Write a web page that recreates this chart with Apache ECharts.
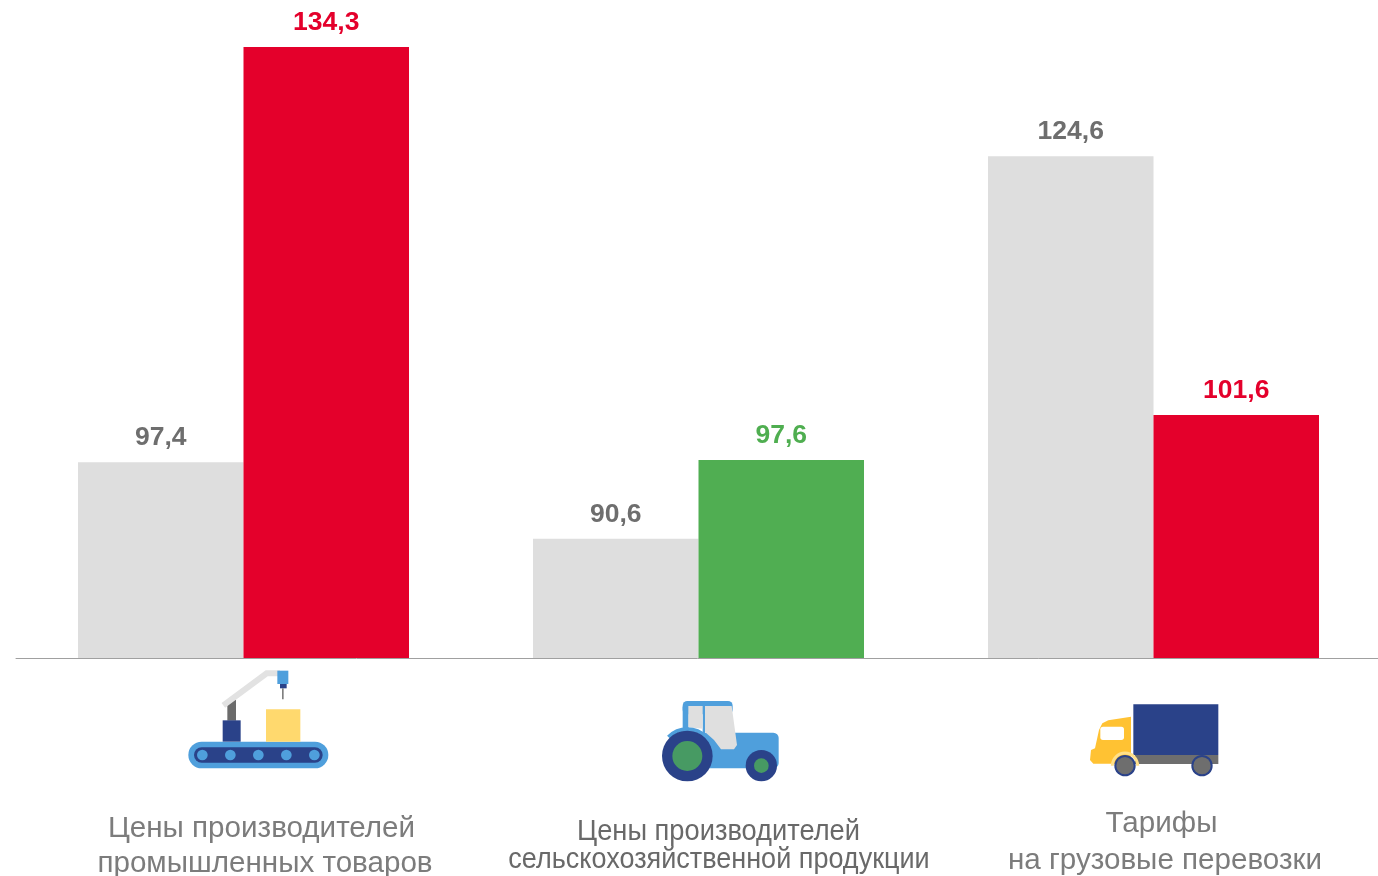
<!DOCTYPE html>
<html><head><meta charset="utf-8">
<style>html,body{margin:0;padding:0;background:#fff;overflow:hidden}#c{width:1378px;height:876px}</style>
<script src="https://cdn.jsdelivr.net/npm/echarts@6/dist/echarts.min.js"></script>
</head><body><div id="c"></div>
<script>
const categories = ['Промышленность', 'Сельское хозяйство', 'Грузоперевозки'];
const previousValues = [97.4, 90.6, 124.6];
const currentValues = [134.3, 97.6, 101.6];
const currentColors = ['#e4002b', '#50ae52', '#e4002b'];
const currentLabelColors = ['#e4002b', '#4fae50', '#e4002b'];
const captionLines = [
  ['Цены производителей', 'промышленных товаров'],
  ['Цены производителей', 'сельскохозяйственной продукции'],
  ['Тарифы', 'на грузовые перевозки']
];
const GREY_BAR = '#dedede', GREY_LABEL = '#6e6e6e';
const BLUE = '#4f9fdc', NAVY = '#2a4289', GREEN = '#479a63', YEL = '#ffc233';

const fmt = p => String(p.value.value !== undefined ? p.value.value : p.value).replace('.', ',');

function cap(text, x, y, font, fill, sx) {
  return {type:'text', x, y, scaleX:sx||1, style:{text, x:0, y:0, font, fill, align:'center', verticalAlign:'middle'}};
}
const capFont = '29.6px "Liberation Sans"';
const capFont2 = '29px "Liberation Sans"';
const captions = [
  cap(captionLines[0][0], 261.5, 829, capFont, '#7c7c7c'),
  cap(captionLines[0][1], 265, 864, capFont, '#7c7c7c'),
  cap(captionLines[1][0], 718.5, 832, capFont2, '#696969', 0.94),
  cap(captionLines[1][1], 719, 860, capFont2, '#696969', 0.932),
  cap(captionLines[2][0], 1161.5, 824, capFont, '#7c7c7c'),
  cap(captionLines[2][1], 1165, 861, capFont, '#7c7c7c')
];

function rect(x,y,w,h,fill,r){return {type:'rect',shape:{x,y,width:w,height:h,r:r||0},style:{fill}};}
function circ(cx,cy,r,fill){return {type:'circle',shape:{cx,cy,r},style:{fill}};}
function poly(points,fill){return {type:'polygon',shape:{points},style:{fill}};}
function icon(x,y,children){return {type:'group',x,y,scaleX:1/3,scaleY:1/3,silent:true,children};}

const factory = icon(170,660,[
  rect(55,245,420,80,BLUE,40),
  rect(72,262,386,46,NAVY,23),
  circ(97,285,16,BLUE),circ(181,285,16,BLUE),circ(265,285,16,BLUE),circ(349,285,16,BLUE),circ(433,285,16,BLUE),
  rect(172,120,26,62,'#6b6b6b'),
  rect(158,181,54,64,NAVY),
  rect(288,148,103,97,'#ffd96e'),
  {type:'polyline',shape:{points:[[160,136],[290,40],[330,40]]},style:{stroke:'#e2e2e2',lineWidth:18,fill:'none'}},
  rect(322,32,33,40,BLUE),
  rect(330,72,20,13,NAVY),
  rect(336,85,5,33,'#808080')
]);

const tractor = icon(640,690,[
  rect(128,33,150,40,BLUE,14),
  rect(128,50,18,80,BLUE),
  rect(175,128,241,107,BLUE,16),
  poly([[188,48],[195,48],[195,130],[188,130]],BLUE),
  poly([[145,48],[188,48],[188,116],[145,112]],'#dfdfdf'),
  poly([[195,48],[275,48],[291,165],[282,178],[243,178],[222,150],[195,126]],'#dfdfdf'),
  {type:'arc',shape:{cx:142,cy:198,r:80,startAngle:Math.PI*1.25,endAngle:Math.PI*1.95,clockwise:true},style:{stroke:BLUE,lineWidth:12,fill:'none'}},
  circ(142,198,76,NAVY),circ(142,198,45,GREEN),
  circ(364,227,47,NAVY),circ(364,227,22,GREEN)
]);

const truck = icon(1075,695,[
  rect(175,28,255,152,NAVY),
  rect(180,180,250,27,'#6e6e6e'),
  poly([[168,65],[100,76],[82,85],[72,105],[60,160],[48,165],[45,195],[55,206],[168,206]],YEL),
  rect(76,95,71,40,'#fff',8),
  {type:'arc',shape:{cx:150,cy:212,r:38,startAngle:Math.PI,endAngle:Math.PI*2,clockwise:true},style:{stroke:'#ffe08a',lineWidth:9,fill:'none'}},
  circ(150,212,32,NAVY),circ(150,212,26,'#6e6e6e'),
  circ(381,212,32,NAVY),circ(381,212,26,'#6e6e6e')
]);

const chart = echarts.init(document.getElementById('c'), null, {renderer:'canvas'});
const labelFont = {fontFamily:'Liberation Sans', fontWeight:'bold', fontSize:26.5, distance:11};
chart.setOption({
  animation:false,
  backgroundColor:'#fff',
  grid:{left:16, width:1365, top:47, bottom:218, containLabel:false, outerBoundsMode:'none'},
  xAxis:{type:'category', data:categories, axisLine:{lineStyle:{color:'#a0a0a0',width:1}}, axisTick:{show:false}, axisLabel:{show:false}},
  yAxis:{type:'value', min:80, max:134.3, show:false, splitLine:{show:false}},
  series:[
    {type:'bar', barWidth:165.5, barGap:'0%', data:previousValues, itemStyle:{color:GREY_BAR},
     label:{show:true, position:'top', color:GREY_LABEL, formatter:fmt, ...labelFont}},
    {type:'bar', barWidth:165.5, barGap:'0%',
     data:currentValues.map((v,i)=>({value:v, itemStyle:{color:currentColors[i]},
       label:{color:currentLabelColors[i]}})),
     label:{show:true, position:'top', formatter:fmt, ...labelFont}}
  ],
  graphic:{elements:[factory, tractor, truck, ...captions]}
});
</script></body></html>
